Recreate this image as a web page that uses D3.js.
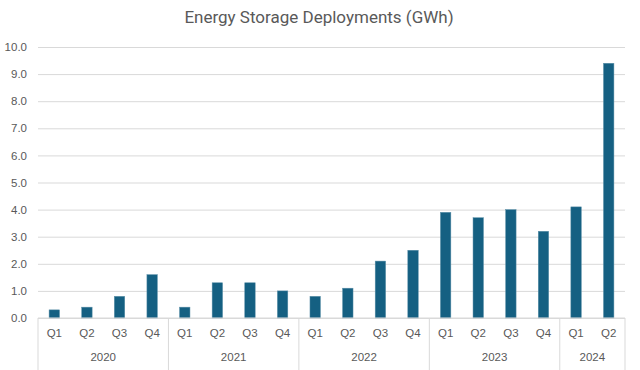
<!DOCTYPE html>
<html><head><meta charset="utf-8">
<script src="https://cdn.jsdelivr.net/npm/d3@7"></script>
<style>body{margin:0;background:#fff}svg{display:block}</style>
</head><body>
<script>
const years = ["2020","2021","2022","2023","2024"];
const quarters = ["Q1","Q2","Q3","Q4","Q1","Q2","Q3","Q4","Q1","Q2","Q3","Q4","Q1","Q2","Q3","Q4","Q1","Q2"];
const quarterYears = ["2020","2020","2020","2020","2021","2021","2021","2021","2022","2022","2022","2022","2023","2023","2023","2023","2024","2024"];
const values = [0.3,0.4,0.8,1.6,0.4,1.3,1.3,1.0,0.8,1.1,2.1,2.5,3.9,3.7,4.0,3.2,4.1,9.4];
const yTicks = [0,1,2,3,4,5,6,7,8,9,10];
const title = "Energy Storage Deployments (GWh)";

const W=640,H=370;
const m={l:38,r:15,t:47,b:52};
const svg=d3.select("body").append("svg").attr("width",W).attr("height",H);
const font="'Liberation Sans', Arial, sans-serif";
const tfont="Roboto, sans-serif";
const ids=values.map((d,i)=>i);
const x=d3.scaleBand().domain(ids).range([m.l,W-m.r]).paddingInner(0.68).paddingOuter(0.34);
const xb=d3.scaleBand().domain(ids).range([m.l,W-m.r]);
const y=d3.scaleLinear().domain([0,10]).range([H-m.b,m.t]);

svg.append("text").attr("x",319).attr("y",23).attr("text-anchor","middle")
  .attr("font-family",tfont).attr("font-size",17).attr("fill","#595959").text(title);

const ga=svg.append("g").attr("transform",`translate(${m.l},0)`)
  .call(d3.axisLeft(y).tickValues(yTicks).tickFormat(d3.format(".1f")).tickSize(-(W-m.l-m.r)).tickPadding(11));
ga.select(".domain").remove();
ga.selectAll(".tick line").attr("stroke","#d9d9d9");
ga.selectAll(".tick text").attr("font-family",font).attr("font-size",11.5).attr("fill","#595959");

svg.append("g").selectAll("rect").data(values).join("rect")
  .attr("x",(d,i)=>x(i)).attr("width",x.bandwidth())
  .attr("y",d=>y(d)).attr("height",d=>y(0)-y(d))
  .attr("fill","#156082").attr("stroke","#5b8fa8").attr("stroke-width",0.5);

const base=y(0);
svg.append("line").attr("x1",m.l).attr("x2",W-m.r).attr("y1",base).attr("y2",base).attr("stroke","#d9d9d9");

svg.append("g").selectAll("text").data(quarters).join("text")
  .attr("x",(d,i)=>xb(i)+xb.bandwidth()/2).attr("y",base+19).attr("text-anchor","middle")
  .attr("font-family",font).attr("font-size",11.5).attr("fill","#595959").text(d=>d);

const groups=years.map(yr=>{const idx=ids.filter(i=>quarterYears[i]===yr);return {yr,a:xb(idx[0]),b:xb(idx[idx.length-1])+xb.bandwidth()};});
const bounds=[groups[0].a,...groups.map(g=>g.b)];
svg.append("g").selectAll("line").data(bounds).join("line")
  .attr("x1",d=>d).attr("x2",d=>d).attr("y1",base).attr("y2",H).attr("stroke","#d9d9d9");
svg.append("g").selectAll("text").data(groups).join("text")
  .attr("x",g=>(g.a+g.b)/2).attr("y",base+43).attr("text-anchor","middle")
  .attr("font-family",font).attr("font-size",11.5).attr("fill","#595959").text(g=>g.yr);
</script>
</body></html>
